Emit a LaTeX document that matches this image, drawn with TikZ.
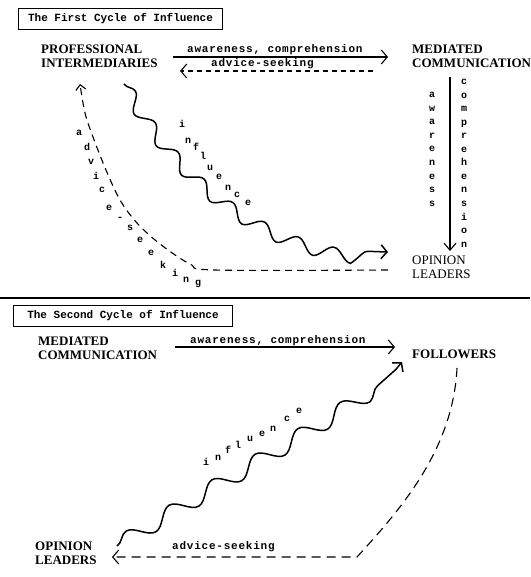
\documentclass[tikz,border=0pt]{standalone}
\usepackage{fontspec}
\setmainfont{Liberation Serif}
\newfontfamily\tw[LetterSpace=7]{Liberation Mono}
\newfontfamily\twt{Liberation Mono}
\usetikzlibrary{arrows.meta,decorations.pathmorphing}
\begin{document}
\begin{tikzpicture}[x=1pt,y=-1pt,
  capb/.style={font=\fontsize{13}{14}\selectfont\bfseries, align=left, anchor=base west, inner sep=0pt},
  capr/.style={font=\fontsize{13}{14}\selectfont, align=left, anchor=base west, inner sep=0pt},
  tt/.style={font={\tw\bfseries\fontsize{11}{12}\selectfont}, anchor=base west, inner sep=0pt},
  lt/.style={font={\twt\bfseries\fontsize{10}{12}\selectfont}, anchor=base, inner sep=0pt},
  titlebox/.style={draw, line width=1pt, font={\twt\bfseries\fontsize{11}{12}\selectfont}, anchor=north west, minimum height=21pt, inner sep=0pt},
  tipend/.style={-{Straight Barb[length=6pt,width=14pt]}},
  sline/.style={line width=1.1pt},
  wave/.style={line width=1.5pt, decorate, decoration={snake, amplitude=6.5pt, segment length=38pt, post length=10pt}},
]
\useasboundingbox (0,0) rectangle (530,577);
\fill[white] (0,0) rectangle (530,577);

% ---------- First cycle ----------
\node[titlebox, minimum width=204pt] (t1) at (18,8) {The First Cycle of Influence};

\node[capb] (pi) at (41,68) {PROFESSIONAL\\INTERMEDIARIES};
\node[capb] (mc1) at (412,68) {MEDIATED\\COMMUNICATION};
\node[capr] (ol1) at (412,278) {OPINION\\LEADERS};

\coordinate (a1s) at (173,57);
\coordinate (a1e) at (388,57);
\draw[sline, tipend] (a1s) -- (a1e);
\node[tt] (l1) at (187,53) {awareness, comprehension};

\coordinate (d1s) at (373,71);
\coordinate (d1e) at (180,71);
\draw[line width=1.1pt, dash pattern=on 5pt off 4pt, tipend] (d1s) -- (d1e);
\node[tt] (l2) at (211,67) {advice-seeking};

\coordinate (v1s) at (450,77);
\coordinate (v1e) at (450,251);
\draw[sline, -{Straight Barb[length=7pt,width=12pt]}] (v1s) -- (v1e);
\foreach \l [count=\i] in {a,w,a,r,e,n,e,s,s}
  \node[lt] (aw\i) at (432,{98+13.5*(\i-1)}) {\l};
\foreach \l [count=\i] in {c,o,m,p,r,e,h,e,n,s,i,o,n}
  \node[lt] (cp\i) at (464,{85+13.5*(\i-1)}) {\l};

\coordinate (w1s) at (124,84);
\coordinate (w1e) at (388,252);
\draw[wave, tipend] (w1s) .. controls (175,175) and (260,250) .. (w1e);
\foreach \l/\x/\y [count=\i] in {i/182/128,n/188/144,f/196/151,l/203/160,u/210/171,e/219/180,n/228/190,c/237/197,e/248/205}
  \node[lt] (if\i) at (\x,\y) {\l};

\coordinate (s1s) at (388,270);
\coordinate (s1e) at (80,84);
\draw[line width=1.1pt, dash pattern=on 7pt off 5pt, -{Straight Barb[length=5pt,width=10pt]}]
  plot[smooth, tension=0.55] coordinates {(s1s) (215,270) (190,264) (160,244) (137,223) (120,200) (106,170) (93,137) (85,113) (s1e)};
\foreach \l/\x/\y [count=\i] in {a/79/136,d/87/151,v/91/165,i/96/180,c/102/193,e/109/210,-/120/220,s/130/230,e/140/242,e/151/255,k/163/268,i/175/276,n/186/282,g/198/285}
  \node[lt] (as\i) at (\x,\y) {\l};

% ---------- divider ----------
\draw[line width=1.5pt] (0,298) -- (530,298);

% ---------- Second cycle ----------
\node[titlebox, minimum width=219pt] (t2) at (13,305) {The Second Cycle of Influence};

\node[capb] (mc2) at (38,359) {MEDIATED\\COMMUNICATION};
\node[capb] (fo) at (412,358) {FOLLOWERS};
\node[capb] (ol2) at (35,564) {OPINION\\LEADERS};

\coordinate (a2s) at (175,347);
\coordinate (a2e) at (395,347);
\draw[sline, tipend] (a2s) -- (a2e);
\node[tt] (l3) at (190,343) {awareness, comprehension};

\coordinate (w2s) at (117,546);
\coordinate (w2e) at (402,362);
\draw[wave, decoration={segment length=50pt, amplitude=8pt}, tipend] (w2s) .. controls (250,465) and (380,395) .. (w2e);
\foreach \l/\x/\y [count=\i] in {i/206/465,n/218/460,f/228/453,l/238/448,u/250/441,e/262/436,n/273/431,c/287/421,e/299/413}
  \node[lt] (ig\i) at (\x,\y) {\l};

\coordinate (s2s) at (457,368);
\coordinate (s2m) at (357,557);
\coordinate (s2e) at (112,557);
\draw[line width=1.1pt, dash pattern=on 9pt off 6pt, tipend] (s2s) .. controls (453,450) and (400,510) .. (s2m) -- (s2e);
\node[tt] (l4) at (172,549) {advice-seeking};
\end{tikzpicture}
\end{document}
